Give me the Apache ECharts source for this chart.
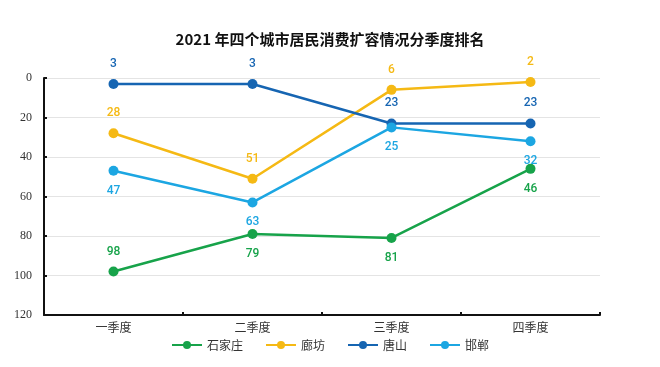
<!DOCTYPE html>
<html><head><meta charset="utf-8">
<script src="https://cdn.jsdelivr.net/npm/echarts@6/dist/echarts.min.js"></script>
<style>html,body{margin:0;padding:0;background:#fff}#c{width:660px;height:367px}</style>
</head><body><div id="c"></div>
<script>
const titleText = '2021 年四个城市居民消费扩容情况分季度排名';
const categories = ['一季度','二季度','三季度','四季度'];
const seriesNames = ['石家庄','廊坊','唐山','邯郸'];
const shijiazhuang = [98, 79, 81, 46];
const langfang = [28, 51, 6, 2];
const tangshan = [3, 3, 23, 23];
const handan = [47, 63, 25, 32];
const labelPos = {
  '石家庄': ['top','bottom','bottom','bottom'],
  '廊坊': ['top','top','top','top'],
  '唐山': ['top','top','top','top'],
  '邯郸': ['bottom','bottom','bottom','bottom']
};
const colors = ['#17a34a','#f5b914','#1665b2','#1ca6e2'];
const values = [shijiazhuang, langfang, tangshan, handan];

const chart = echarts.init(document.getElementById('c'));
chart.setOption({
  animation: false,
  title: {text: titleText, left: 'center', top: 27,
    textStyle: {fontFamily: 'Noto Sans CJK SC', fontSize: 15, fontWeight: 'bold', color: '#111'}},
  legend: {bottom: 11, left: 'center', itemWidth: 30, itemHeight: 10, itemGap: 22,
    textStyle: {fontFamily: 'Noto Sans CJK SC', fontSize: 12, color: '#333'},
    data: seriesNames},
  grid: {left: 44, right: 60, top: 78, bottom: 52},
  xAxis: {type: 'category', data: categories, boundaryGap: true, position: 'bottom',
    axisLine: {onZero: false, lineStyle: {color: '#111', width: 2}},
    axisTick: {show: true, lineStyle: {color: '#111', width: 2}, length: 3, inside: true},
    axisLabel: {fontFamily: 'Noto Sans CJK SC', fontSize: 12, color: '#333', margin: 6}},
  yAxis: {type: 'value', inverse: true, min: 0, max: 120, interval: 20,
    axisLine: {show: true, lineStyle: {color: '#111', width: 2}},
    axisTick: {show: true, lineStyle: {color: '#111', width: 2}, length: 3, inside: true},
    axisLabel: {fontFamily: 'Liberation Serif', fontSize: 12, color: '#333', margin: 12},
    splitLine: {lineStyle: {color: '#e4e4e4'}}},
  series: seriesNames.map((n, i) => ({
    name: n, type: 'line', symbol: 'circle', symbolSize: 10,
    lineStyle: {width: 2.5, color: colors[i]}, itemStyle: {color: colors[i]},
    data: values[i].map((v, j) => ({value: v, label: {position: labelPos[n][j]}})),
    label: {show: true, color: colors[i], fontFamily: 'Roboto, sans-serif',
      fontWeight: 500, fontSize: 12, distance: 9}
  }))
});
</script></body></html>
